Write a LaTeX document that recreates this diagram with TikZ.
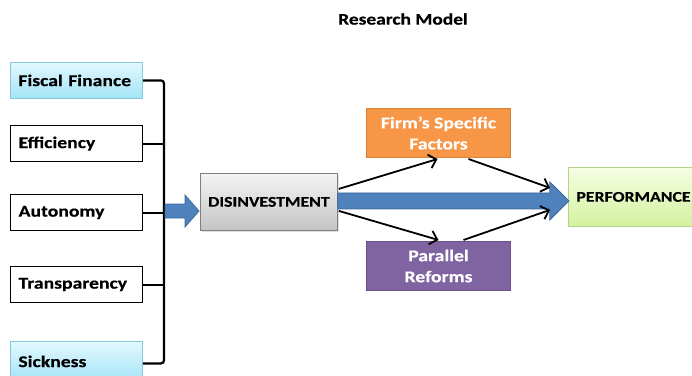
\documentclass[tikz,border=0pt]{standalone}
\usepackage{fontspec}
\setmainfont{Carlito}[FakeStretch=1.2,BoldFeatures={FakeBold=0.4}]
\usetikzlibrary{arrows.meta,calc,shadows}
\definecolor{cyanT}{HTML}{E3F8FE}
\definecolor{cyanB}{HTML}{A3E4F7}
\definecolor{cyanD}{HTML}{86C9DD}
\definecolor{grayT}{HTML}{F4F4F4}
\definecolor{grayB}{HTML}{C4C4C4}
\definecolor{grayD}{HTML}{7F7F7F}
\definecolor{greenT}{HTML}{F6FDE4}
\definecolor{greenB}{HTML}{D4F2A0}
\definecolor{greenD}{HTML}{B3D48A}
\definecolor{orangeF}{HTML}{F79646}
\definecolor{orangeD}{HTML}{D9803A}
\definecolor{purpleF}{HTML}{8064A2}
\definecolor{purpleD}{HTML}{6A5188}
\definecolor{blueF}{HTML}{4F81BD}
\definecolor{blueD}{HTML}{3B679B}
\tikzset{
  txt/.style={font=\bfseries\fontsize{16.4}{20}\selectfont},
  captxt/.style={font=\bfseries\fontsize{14.8}{18}\selectfont},
  leftbox/.style={txt, draw=black, line width=1.2pt, fill=white, minimum width=132pt, minimum height=36pt, text width=116pt, align=left, inner sep=0pt, inner xsep=8pt, anchor=north west},
  cyanbox/.style={leftbox, draw=cyanD, line width=0.8pt, top color=cyanT, bottom color=cyanB},
  colbox/.style={txt, text=white, minimum width=144pt, minimum height=49pt, align=center, inner sep=2pt, anchor=north west, line width=1pt},
  bus/.style={line width=2.2pt, black},
  conn/.style={line width=1.8pt, black, -{Straight Barb[length=7pt,width=14pt,line width=1.8pt]}},
  barrow/.style={fill=blueF, draw=blueD, line width=0.8pt},
}
\begin{document}
\begin{tikzpicture}[x=1pt,y=-1pt]
\useasboundingbox (0,0) rectangle (692,375);
\node[font=\bfseries\fontsize{16.2}{20}\selectfont] (title) at (403,19) {Research Model};

\node[cyanbox] (fis) at (10,62) {Fiscal Finance};
\node[leftbox] (eff) at (10,125) {Efficiency};
\node[leftbox] (aut) at (10,194) {Autonomy};
\node[leftbox] (tra) at (10,266) {Transparency};
\node[cyanbox, minimum height=40pt] (sic) at (10,341) {Sickness};

\coordinate (busx) at (164,0);
\draw[bus, rounded corners=3pt] (fis.east) -- (fis.east -| busx) -- ($(sic.east -| busx)+(0,2)$) -- ($(sic.east)+(0,2)$);
\draw[bus] (eff.east) -- (eff.east -| busx);
\draw[bus] (aut.east) -- (aut.east -| busx);
\draw[bus] (tra.east) -- (tra.east -| busx);

\node[captxt, draw=grayD, line width=0.8pt, top color=grayT, bottom color=grayB, minimum width=137pt, minimum height=57pt, inner sep=2pt, anchor=north west, drop shadow={opacity=0.25, shadow xshift=1.5pt, shadow yshift=-1.5pt}] (dis) at (200,173) {DISINVESTMENT};

\node[colbox, fill=orangeF, draw=orangeD] (firm) at (366,108) {Firm’s Specific\\[1pt]Factors};
\node[colbox, fill=purpleF, draw=purpleD] (par) at (366,241) {Parallel\\[1pt]Reforms};

\node[captxt, draw=greenD, line width=0.8pt, top color=greenT, bottom color=greenB, minimum width=130pt, minimum height=59pt, text width=120pt, align=left, inner sep=0pt, inner xsep=8pt, anchor=north west] (perf) at (568,167) {PERFORMANCE};

% small blue arrow from bus to disinvestment
\coordinate (sa) at (165,211);
\draw[barrow] ($(sa)+(0,-7)$) -- ($(sa)+(20,-7)$) -- ($(sa)+(20,-16)$) -- ($(sa -| dis.west)+(-1,0)$) -- ($(sa)+(20,16)$) -- ($(sa)+(20,7)$) -- ($(sa)+(0,7)$) -- cycle;

% big blue arrow
\coordinate (ba) at ($(dis.east)+(0,-1)$);
\draw[barrow] ($(ba)+(0,-8)$) -- ($(ba)+(212,-8)$) -- ($(ba)+(212,-19)$) -- ($(ba -| perf.west)+(1,0)$) -- ($(ba)+(212,19)$) -- ($(ba)+(212,8)$) -- ($(ba)+(0,8)$) -- cycle;

% black arrows
\draw[conn] ($(dis.east)+(1,-13)$) -- ($(firm.south)+(-1,1)$);
\draw[conn] ($(dis.east)+(1,9)$) -- ($(par.north)+(0,-1)$);
\draw[conn] ($(firm.south)+(30,1)$) -- ($(perf.west)+(-18,-9)$);
\draw[conn] ($(par.north)+(25,-1)$) -- ($(perf.west)+(-18,13)$);
\end{tikzpicture}
\end{document}
